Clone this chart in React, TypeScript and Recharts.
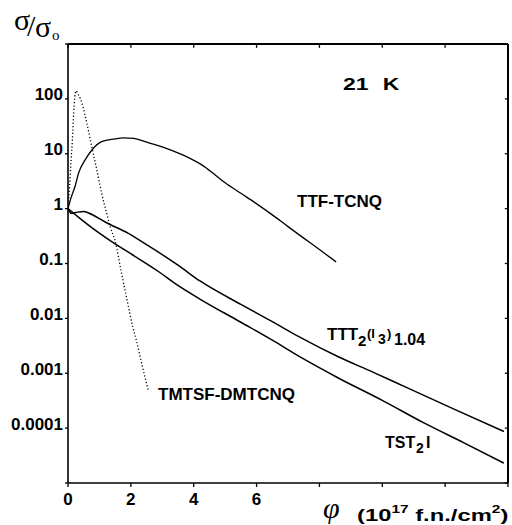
import React from 'react';
import { LineChart, Line, XAxis, YAxis, ReferenceLine } from 'recharts';

// phi in 10^17 f.n./cm^2, sigma/sigma0
const phiTmtsf = [0, 0.05, 0.1, 0.14, 0.18, 0.25, 0.33, 0.44, 0.6, 0.76, 0.92, 1.07, 1.23, 1.35, 1.49, 1.7, 1.9, 2.06, 2.17, 2.28, 2.37, 2.45, 2.55];
const sigmaTmtsf = [1, 2.5, 8, 18, 55, 140, 120, 85, 36, 13, 5, 1.9, 0.83, 0.45, 0.27, 0.068, 0.019, 0.007, 0.0041, 0.0022, 0.0013, 0.00085, 0.0005];

const phiTtf = [0, 0.1, 0.22, 0.34, 0.55, 0.76, 1.07, 1.49, 1.75, 2.1, 2.45, 2.97, 3.3, 3.8, 4.27, 4.6, 5.0, 5.5, 5.97, 6.5, 7.0, 7.5, 8.0, 8.53];
const sigmaTtf = [1, 1.6, 2.5, 4.5, 7.8, 11.7, 16.6, 18.6, 19.5, 19, 16.6, 13.5, 11.5, 8.7, 6.2, 4.5, 2.95, 1.9, 1.26, 0.77, 0.47, 0.29, 0.18, 0.107];

const phiTtt = [0, 0.1, 0.25, 0.5, 0.76, 1.18, 1.92, 2.5, 2.9, 3.5, 4.2, 5.5, 6.5, 7.33, 8.6, 9.7, 10.8, 12.3, 13.87];
const sigmaTtt = [1, 0.82, 0.85, 0.89, 0.78, 0.57, 0.355, 0.22, 0.158, 0.093, 0.048, 0.018, 0.0087, 0.0047, 0.002, 0.00105, 0.00054, 0.00022, 0.000087];

const phiTst = [0, 0.3, 0.65, 1.39, 2.13, 2.9, 3.39, 4.17, 5.5, 6.5, 7.44, 8.6, 10, 11.34, 12.6, 13.87];
const sigmaTst = [1, 0.72, 0.5, 0.25, 0.135, 0.07, 0.044, 0.023, 0.0085, 0.004, 0.0019, 0.00082, 0.00032, 0.000123, 0.000054, 0.000023];

const xTicks = [0, 2, 4, 6, 8, 10, 12, 14];
const xTickText = ['0', '2', '4', '6', '', '', '', ''];
const yTicks = [1e-5, 1e-4, 1e-3, 1e-2, 1e-1, 1, 10, 100, 1000];
const yTickText = ['', '0.0001', '0.001', '0.01', '0.1', '1', '10', '100', ''];

const toPoints = (xs: number[], ys: number[]) => xs.map((x, i) => ({ x, y: ys[i] }));

const sans = '"Liberation Sans", Arial, Helvetica, sans-serif';
const serif = '"Liberation Serif", "DejaVu Serif", serif';
const ink = '#000000';

const W = 512, H = 525;
const box = { left: 68, top: 44, right: 508, bottom: 483 };

const XTick = (props: any) => {
  const { x, y, payload } = props;
  const label = xTickText[xTicks.indexOf(payload.value)];
  if (!label) return <g />;
  return (
    <text x={x} y={y} dy="0.71em" textAnchor="middle" fill={ink} fontSize={17} fontWeight="bold" fontFamily={sans}>
      {label}
    </text>
  );
};

const YTick = (props: any) => {
  const { x, y, payload } = props;
  const idx = yTicks.findIndex(t => Math.abs(Math.log10(t) - Math.log10(payload.value)) < 1e-6);
  const label = idx >= 0 ? yTickText[idx] : '';
  if (!label) return <g />;
  return (
    <text x={x} y={y - 4} dominantBaseline="central" textAnchor="end" fill={ink} fontSize={17} fontWeight="bold" fontFamily={sans}>
      {label}
    </text>
  );
};

const axisLine = { stroke: ink, strokeWidth: 1.6 };
const tickLine = { stroke: ink, strokeWidth: 1.3 };
const layer: React.CSSProperties = { position: 'absolute', left: 0, top: 0, pointerEvents: 'none', overflow: 'visible' };

const App: React.FC = () => {
  const tmtsf = toPoints(phiTmtsf, sigmaTmtsf);
  const ttf = toPoints(phiTtf, sigmaTtf);
  const ttt = toPoints(phiTtt, sigmaTtt);
  const tst = toPoints(phiTst, sigmaTst);

  return (
    <div style={{ position: 'absolute', left: 0, top: 0, width: W, height: H, background: '#fff' }}>
      <LineChart width={W} height={H} margin={{ top: box.top, right: W - box.right, bottom: 12, left: 0 }}>
        <XAxis type="number" dataKey="x" domain={[0, 14]} ticks={xTicks} allowDataOverflow
          axisLine={axisLine} tickLine={tickLine} tickSize={4} tickMargin={6} tick={<XTick />} height={H - box.bottom - 12} />
        <YAxis type="number" scale="log" domain={[1e-5, 1e3]} ticks={yTicks} allowDataOverflow
          axisLine={axisLine} tickLine={tickLine} tickSize={3} tickMargin={2} tick={<YTick />} width={box.left} />
        {/* top and right edges of the frame */}
        <ReferenceLine y={1000} stroke={ink} strokeWidth={1.6} ifOverflow="visible" />
        <ReferenceLine x={14} stroke={ink} strokeWidth={1.6} ifOverflow="visible" />
        {/* mirrored tick marks on the top and right edges */}
        {xTicks.map(t => (
          <ReferenceLine key={'tx' + t} segment={[{ x: t, y: 1000 }, { x: t, y: 850 }]} stroke={ink} strokeWidth={1.3} ifOverflow="visible" />
        ))}
        {yTicks.map(t => (
          <ReferenceLine key={'ty' + t} segment={[{ x: 14, y: t }, { x: 13.9, y: t }]} stroke={ink} strokeWidth={1.3} ifOverflow="visible" />
        ))}
        <Line data={tmtsf} dataKey="y" type="monotone" stroke={ink} strokeWidth={1.3}
          strokeDasharray="1.2 2.2" dot={false} isAnimationActive={false} />
        <Line data={ttf} dataKey="y" type="monotone" stroke={ink} strokeWidth={1.3}
          dot={false} isAnimationActive={false} />
        <Line data={ttt} dataKey="y" type="monotone" stroke={ink} strokeWidth={1.5}
          dot={false} isAnimationActive={false} />
        <Line data={tst} dataKey="y" type="monotone" stroke={ink} strokeWidth={1.5}
          dot={false} isAnimationActive={false} />
      </LineChart>

      <svg width={W} height={H} style={layer}>
        <line x1={box.left} y1={box.top} x2={box.right} y2={box.top} stroke={ink} strokeWidth={2} />
        <line x1={box.right} y1={box.top} x2={box.right} y2={box.bottom} stroke={ink} strokeWidth={2} />
        <g fill={ink}>
          {/* y title sigma/sigma0 */}
          <text fontFamily={serif} fontSize={30}>
            <tspan x={14} y={30}>σ</tspan>
            <tspan x={27} y={36}>/</tspan>
            <tspan x={35} y={37}>σ</tspan>
            <tspan x={52} y={40} fontSize={15}>o</tspan>
          </text>
          <g transform="translate(343,90) scale(1.35,1)">
            <text x={0} y={0} fontFamily={sans} fontWeight="bold" fontSize={17}>21</text>
            <text x={29.5} y={0} fontFamily={sans} fontWeight="bold" fontSize={17}>K</text>
          </g>
          <text x={297} y={207} fontFamily={sans} fontWeight="bold" fontSize={17}>TTF-TCNQ</text>
          <text fontFamily={sans} fontWeight="bold">
            <tspan x={327} y={340} fontSize={17}>TTT</tspan>
            <tspan x={358} y={346} fontSize={15}>2</tspan>
            <tspan x={367} y={338} fontSize={13}>(I</tspan>
            <tspan x={378} y={344} fontSize={14}>3</tspan>
            <tspan x={387} y={338} fontSize={13}>)</tspan>
            <tspan x={394} y={345} fontSize={16}>1.04</tspan>
          </text>
          <text x={158} y={400} fontFamily={sans} fontWeight="bold" fontSize={17}>TMTSF-DMTCNQ</text>
          <text fontFamily={sans} fontWeight="bold">
            <tspan x={385} y={448} fontSize={16}>TST</tspan>
            <tspan x={416} y={453} fontSize={14}>2</tspan>
            <tspan x={426} y={448} fontSize={16}>I</tspan>
          </text>
          {/* x title */}
          <text x={323} y={518} fontFamily={serif} fontStyle="italic" fontSize={30}>φ</text>
          <g transform="translate(357,521) scale(1.4,1)">
            <text x={0} y={0} fontFamily={sans} fontWeight="bold" fontSize={17}>
              (10<tspan dy={-8} fontSize={11}>17</tspan>
              <tspan dy={8}> f.n./cm</tspan>
              <tspan dy={-8} fontSize={11}>2</tspan>
              <tspan dy={8}>)</tspan>
            </text>
          </g>
        </g>
      </svg>
    </div>
  );
};

export default App;
